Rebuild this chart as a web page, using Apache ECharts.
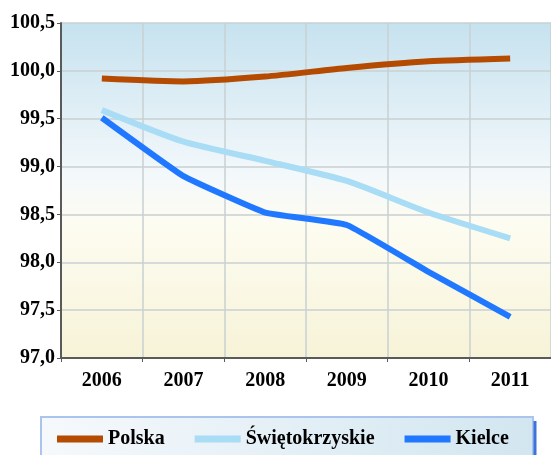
<!DOCTYPE html>
<html>
<head>
<meta charset="utf-8">
<title>line</title>
<style>
html,body{margin:0;padding:0;width:100%;height:100%;background:#fff;}
#container{width:551px;height:455px;}
</style>
</head>
<body>
<div id="container"></div>
<script src="https://cdn.jsdelivr.net/npm/echarts@6/dist/echarts.min.js"></script>
<script>
var years = ['2006', '2007', '2008', '2009', '2010', '2011'];
var polska = [99.92, 99.89, 99.94, 100.03, 100.10, 100.13];
var swietokrzyskie = [99.59, 99.26, 99.06, 98.85, 98.52, 98.25];
var kielce = [99.51, 98.90, 98.52, 98.39, 97.90, 97.43];

var font = '"Liberation Serif", "Times New Roman", serif';

var chart = echarts.init(document.getElementById('container'));
var option = {
    animation: false,
    textStyle: {fontFamily: font},
    grid: {
        left: 61, right: -2, top: 23, bottom: 97,
        show: true,
        borderWidth: 0,
        backgroundColor: {
            type: 'linear', x: 0, y: 0, x2: 0, y2: 1,
            colorStops: [
                {offset: 0, color: '#c6e2ef'},
                {offset: 0.45, color: '#f3f8fb'},
                {offset: 0.6, color: '#fdfcf1'},
                {offset: 1, color: '#f7f3d8'}
            ]
        }
    },
    graphic: [
        {
            type: 'rect', z: -1,
            shape: {x: 41, y: 417, width: 492, height: 50},
            style: {
                fill: {
                    type: 'linear', x: 0, y: 0, x2: 1, y2: 0,
                    colorStops: [
                        {offset: 0, color: '#f6f9fc'},
                        {offset: 1, color: '#d2e6f0'}
                    ]
                },
                stroke: '#aac4ee', lineWidth: 2
            }
        },
        {
            type: 'line', z: -1,
            shape: {x1: 535, y1: 421, x2: 535, y2: 455},
            style: {stroke: '#3d72d9', lineWidth: 3}
        }
    ],
    legend: {
        top: 429,
        left: 57,
        padding: 0,
        icon: 'rect',
        itemWidth: 46,
        itemHeight: 7,
        itemGap: 30,
        textStyle: {fontFamily: font, fontSize: 20, fontWeight: 'bold', color: '#000'},
        data: ['Polska', 'Świętokrzyskie', 'Kielce']
    },
    xAxis: {
        type: 'category',
        data: years,
        boundaryGap: true,
        axisLine: {lineStyle: {color: '#5a5a5a', width: 2}},
        axisTick: {show: true, length: 4, lineStyle: {color: '#5a5a5a'}},
        splitLine: {show: true, lineStyle: {color: '#c9d0d2', width: 1.5}},
        axisLabel: {fontFamily: font, fontSize: 20, fontWeight: 'bold', color: '#000', margin: 13}
    },
    yAxis: {
        type: 'value',
        min: 97.0,
        max: 100.5,
        interval: 0.5,
        axisLine: {show: true, lineStyle: {color: '#5a5a5a', width: 2}},
        axisTick: {show: true, length: 4, lineStyle: {color: '#5a5a5a'}},
        splitLine: {show: true, lineStyle: {color: '#c9d0d2', width: 1.5}},
        axisLabel: {
            fontFamily: font, fontSize: 20, fontWeight: 'bold', color: '#000', margin: 6,
            formatter: function (v) { return v.toFixed(1).replace('.', ','); }
        }
    },
    series: [
        {name: 'Polska', type: 'line', data: polska, smooth: 0.2, showSymbol: false,
         lineStyle: {width: 6, color: '#b54b00'}, itemStyle: {color: '#b54b00'}},
        {name: 'Świętokrzyskie', type: 'line', data: swietokrzyskie, smooth: 0.2, showSymbol: false,
         lineStyle: {width: 6, color: '#a9dcf5'}, itemStyle: {color: '#a9dcf5'}},
        {name: 'Kielce', type: 'line', data: kielce, smooth: 0.1, showSymbol: false,
         lineStyle: {width: 6, color: '#1f78ff'}, itemStyle: {color: '#1f78ff'}}
    ]
};
chart.setOption(option);
</script>
</body>
</html>
